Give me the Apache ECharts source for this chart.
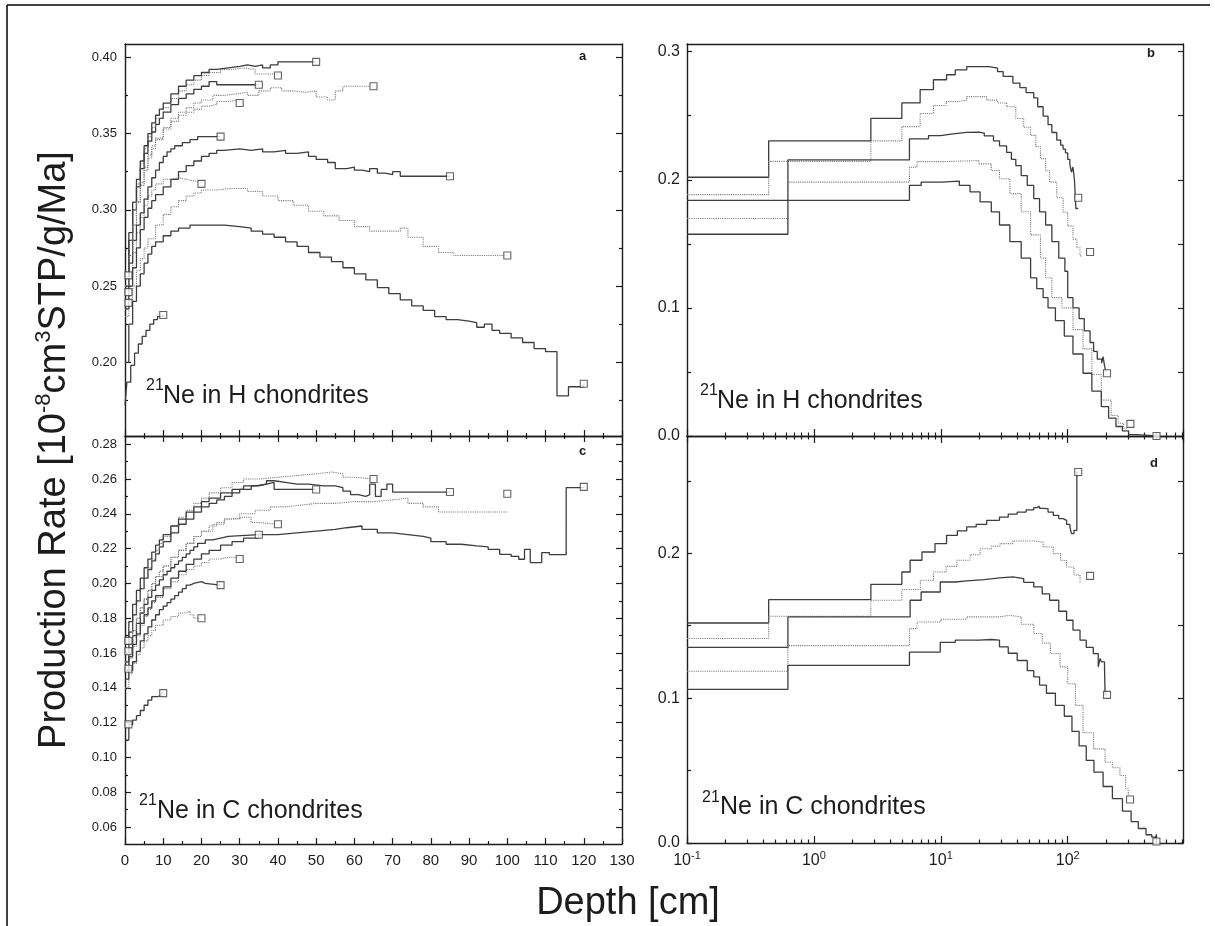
<!DOCTYPE html>
<html>
<head>
<meta charset="utf-8">
<script src="https://cdn.jsdelivr.net/npm/echarts@6/dist/echarts.min.js"></script>
<style>
  html, body { margin: 0; padding: 0; background: #fff; }
  #chart { width: 1215px; height: 926px; }
</style>
</head>
<body>
<div id="chart"></div>
<script>
// ---------- panel a : 21Ne in H chondrites, depth in cm (linear) ----------
const aR10 = [[0,0.172],[0.5,0.187],[1.5,0.198],[2.5,0.206],[3.5,0.212],[4.5,0.217],[5.5,0.221],[6.5,0.225],[7.5,0.228],[8.5,0.230],[10,0.231]];
const aR20 = [[0,0.235],[1,0.255],[2,0.272],[3,0.285],[4,0.295],[5,0.303],[6,0.309],[7,0.313],[8,0.317],[10,0.320],[12,0.321],[14,0.320],[16,0.319],[18,0.318],[20,0.317]];
const aR25 = [[0,0.250],[1,0.265],[2,0.280],[3,0.290],[4,0.298],[5,0.307],[6,0.315],[7,0.321],[8,0.326],[9,0.331],[10,0.335],[11,0.338],[12,0.340],[13,0.342],[15,0.344],[17,0.346],[19,0.348],[25,0.348]];
const aR30 = [[0,0.250],[1,0.270],[2,0.290],[3,0.305],[4,0.318],[5,0.328],[6,0.336],[7,0.342],[8,0.347],[10,0.353],[12,0.358],[14,0.362],[16,0.364],[18,0.366],[20,0.368],[22,0.369],[24,0.371],[27,0.372],[30,0.370]];
const aR35 = [[0,0.255],[1,0.280],[2,0.300],[3,0.315],[4,0.327],[5,0.337],[6,0.345],[7,0.351],[8,0.356],[9,0.360],[10,0.364],[12,0.369],[14,0.373],[16,0.376],[18,0.379],[20,0.381],[22,0.384],[24,0.382],[35,0.382]];
const aR40 = [[0,0.255],[1,0.280],[2,0.300],[3,0.317],[4,0.330],[5,0.340],[6,0.348],[7,0.354],[8,0.360],[10,0.367],[12,0.373],[14,0.378],[16,0.382],[18,0.385],[20,0.388],[22,0.390],[25,0.392],[28,0.393],[31,0.392],[34,0.389],[40,0.388]];
const aR50 = [[0,0.255],[1,0.285],[2,0.305],[3,0.320],[4,0.332],[5,0.342],[6,0.350],[7,0.357],[8,0.362],[9,0.366],[10,0.370],[12,0.376],[14,0.381],[16,0.385],[18,0.388],[20,0.390],[22,0.392],[24,0.393],[27,0.394],[30,0.395],[32,0.394],[34,0.395],[36,0.393],[38,0.395],[40,0.397],[50,0.397]];
const aR65 = [[0,0.250],[1,0.270],[2,0.290],[3,0.305],[4,0.316],[5,0.326],[6,0.334],[7,0.340],[8,0.346],[10,0.354],[12,0.360],[14,0.364],[16,0.367],[18,0.370],[20,0.372],[23,0.375],[26,0.376],[29,0.377],[32,0.375],[35,0.378],[38,0.380],[41,0.378],[44,0.377],[47,0.378],[50,0.374],[53,0.372],[55,0.378],[57,0.381],[65,0.381]];
const aR85 = [[0,0.235],[1,0.250],[2,0.262],[3,0.275],[4,0.287],[5,0.295],[6,0.301],[7,0.306],[8,0.310],[10,0.315],[12,0.320],[14,0.325],[16,0.329],[18,0.332],[20,0.335],[22,0.337],[24,0.339],[26,0.340],[30,0.339],[33,0.340],[36,0.338],[39,0.339],[42,0.337],[45,0.338],[48,0.335],[50,0.333],[53,0.331],[55,0.327],[58,0.328],[60,0.326],[62,0.325],[64,0.327],[66,0.324],[68,0.323],[70,0.325],[72,0.322],[85,0.322]];
const aR100 = [[0,0.230],[1,0.240],[2,0.250],[3,0.260],[4,0.268],[5,0.275],[6,0.281],[8,0.290],[10,0.297],[12,0.302],[14,0.306],[16,0.309],[18,0.311],[20,0.313],[24,0.314],[28,0.314],[32,0.312],[36,0.309],[40,0.306],[44,0.303],[48,0.299],[52,0.296],[56,0.293],[60,0.289],[64,0.286],[68,0.286],[72,0.288],[74,0.282],[78,0.276],[82,0.272],[86,0.270],[100,0.270]];
const aR120 = [[0,0.200],[1,0.225],[2,0.240],[3,0.250],[4,0.258],[5,0.265],[6,0.271],[7,0.276],[8,0.279],[10,0.283],[12,0.286],[14,0.288],[17,0.290],[22,0.290],[26,0.289],[30,0.288],[33,0.286],[36,0.284],[39,0.282],[42,0.279],[45,0.276],[48,0.272],[51,0.269],[54,0.266],[57,0.262],[60,0.258],[63,0.254],[66,0.249],[69,0.245],[72,0.241],[75,0.237],[78,0.234],[81,0.230],[84,0.228],[87,0.227],[90,0.226],[92,0.223],[94,0.225],[96,0.221],[98,0.219],[101,0.216],[104,0.213],[107,0.209],[110,0.207],[113,0.178],[116,0.184],[120,0.186]];
const aEnds = [[10,0.231],[20,0.317],[25,0.348],[30,0.370],[35,0.382],[40,0.388],[50,0.397],[65,0.381],[85,0.322],[100,0.270],[120,0.186],[0.9,0.257],[0.9,0.246],[0.9,0.239]];

// ---------- panel c : 21Ne in C chondrites, depth in cm (linear) ----------
const cR10 = [[0,0.110],[1,0.119],[2,0.1215],[3,0.124],[4,0.127],[5,0.130],[6,0.133],[7,0.135],[8.5,0.1355],[9.5,0.137],[10,0.137]];
const cR20 = [[0,0.140],[1,0.148],[2,0.154],[3,0.159],[4,0.163],[5,0.167],[6,0.170],[7,0.173],[8,0.176],[10,0.179],[12,0.181],[14,0.183],[16,0.184],[17,0.182],[18,0.180],[20,0.180]];
const cR25 = [[0,0.145],[1,0.150],[2,0.155],[3,0.161],[4,0.167],[5,0.171],[6,0.175],[7,0.179],[8,0.182],[9,0.185],[10,0.187],[11,0.189],[12,0.191],[13,0.193],[14,0.195],[15,0.197],[16,0.199],[17,0.200],[18,0.201],[20,0.200],[21,0.199],[25,0.199]];
const cR30 = [[0,0.150],[1,0.157],[2,0.164],[3,0.170],[4,0.176],[5,0.181],[6,0.185],[7,0.189],[8,0.192],[10,0.197],[12,0.201],[14,0.205],[16,0.208],[18,0.210],[20,0.212],[22,0.214],[25,0.215],[27,0.215],[30,0.214]];
const cR35 = [[0,0.155],[1,0.163],[2,0.170],[3,0.177],[4,0.183],[5,0.188],[6,0.192],[7,0.196],[8,0.199],[9,0.202],[10,0.205],[11,0.207],[12,0.209],[13,0.211],[14,0.213],[15,0.215],[16,0.217],[17,0.219],[18,0.221],[19,0.223],[21,0.225],[23,0.226],[25,0.227],[27,0.228],[35,0.228]];
const cR40 = [[0,0.155],[1,0.165],[2,0.173],[3,0.180],[4,0.186],[5,0.191],[6,0.196],[7,0.200],[8,0.204],[9,0.207],[10,0.210],[12,0.215],[14,0.219],[16,0.223],[18,0.227],[20,0.230],[22,0.233],[24,0.235],[26,0.237],[28,0.238],[31,0.238],[33,0.235],[35,0.234],[40,0.234]];
const cR50 = [[0,0.160],[1,0.172],[2,0.182],[3,0.190],[4,0.197],[5,0.203],[6,0.208],[7,0.213],[8,0.217],[9,0.221],[10,0.224],[12,0.229],[14,0.234],[16,0.237],[18,0.241],[20,0.244],[22,0.246],[24,0.248],[26,0.250],[28,0.252],[30,0.254],[33,0.256],[35,0.257],[37,0.258],[39,0.254],[50,0.254]];
const cR65 = [[0,0.160],[1,0.172],[2,0.182],[3,0.190],[4,0.197],[5,0.203],[6,0.209],[7,0.214],[8,0.219],[9,0.223],[10,0.227],[12,0.233],[14,0.238],[16,0.242],[18,0.246],[20,0.249],[22,0.252],[25,0.255],[28,0.258],[31,0.260],[35,0.261],[40,0.262],[45,0.263],[50,0.264],[54,0.263],[57,0.261],[60,0.260],[65,0.260]];
const cR85 = [[0,0.165],[1,0.178],[2,0.188],[3,0.196],[4,0.203],[5,0.209],[6,0.214],[7,0.218],[8,0.222],[9,0.225],[10,0.228],[12,0.233],[14,0.237],[16,0.241],[18,0.244],[20,0.247],[22,0.249],[25,0.252],[28,0.254],[31,0.256],[34,0.257],[37,0.259],[39,0.258],[42,0.257],[45,0.257],[48,0.256],[52,0.256],[55,0.255],[57,0.253],[59,0.251],[61,0.250],[63,0.251],[64,0.257],[65.5,0.250],[67,0.254],[68.5,0.257],[70,0.2525],[85,0.2525]];
const cR100 = [[0,0.155],[1,0.165],[2,0.173],[3,0.180],[4,0.186],[5,0.191],[6,0.196],[7,0.200],[8,0.204],[10,0.210],[12,0.215],[14,0.219],[16,0.223],[18,0.227],[20,0.230],[23,0.234],[26,0.237],[30,0.240],[34,0.242],[38,0.244],[42,0.245],[46,0.246],[50,0.246],[55,0.247],[60,0.247],[65,0.248],[70,0.249],[74,0.246],[78,0.244],[82,0.241],[100,0.241]];
const cR120 = [[0,0.150],[1,0.158],[2,0.165],[3,0.171],[4,0.177],[5,0.182],[6,0.186],[7,0.190],[8,0.193],[10,0.198],[12,0.203],[14,0.207],[16,0.211],[18,0.214],[20,0.217],[22,0.219],[25,0.222],[28,0.224],[31,0.226],[35,0.228],[40,0.229],[45,0.230],[50,0.231],[55,0.232],[58,0.233],[62,0.231],[66,0.229],[70,0.228],[74,0.227],[78,0.226],[80,0.224],[84,0.2225],[88,0.2216],[92,0.221],[95,0.2196],[98,0.2167],[101,0.2155],[103,0.2139],[104.5,0.2196],[106,0.212],[109,0.2177],[111,0.2165],[115.4,0.255],[120,0.2555]];
const cEnds = [[10,0.137],[20,0.180],[25,0.199],[30,0.214],[35,0.228],[40,0.234],[50,0.254],[65,0.260],[85,0.2525],[100,0.2515],[120,0.2555],[0.9,0.167],[0.9,0.161],[0.9,0.151],[0.9,0.119]];

// ---------- panel b : 21Ne in H chondrites, depth in cm (log) ----------
const bR120 = [[0.1,0.202],[0.44,0.2304],[2.81,0.2479],[4.93,0.260],[6.87,0.2704],[8.75,0.2781],[11.1,0.282],[13,0.2858],[16,0.2884],[24,0.2871],[28,0.2845],[31,0.2807],[37,0.2755],[42,0.272],[47,0.268],[54,0.2639],[58,0.257],[64,0.2497],[70,0.243],[75,0.2369],[82,0.231],[88,0.227],[92,0.224],[96,0.221],[100,0.216],[104,0.212],[107,0.2059],[110,0.210],[113,0.200],[116,0.1776],[121,0.1776]];
const bR150 = [[0.1,0.1884],[0.44,0.2144],[2.81,0.2304],[4.93,0.2415],[6.87,0.2518],[8.75,0.258],[11,0.261],[13.4,0.2622],[16,0.2649],[23,0.2622],[28,0.260],[33,0.257],[39,0.2478],[45,0.241],[51,0.2347],[56,0.226],[61,0.2165],[67,0.207],[72,0.1982],[82,0.186],[92,0.1747],[100,0.164],[110,0.1537],[118,0.147],[125,0.1406],[130,0.1406]];
const bR200 = [[0.1,0.1575],[0.624,0.2155],[5.66,0.232],[8,0.2345],[10,0.2356],[12,0.237],[16,0.2372],[20,0.2365],[22,0.2343],[26,0.2304],[29,0.2265],[33,0.2214],[36,0.216],[39,0.2111],[43,0.2033],[48,0.1956],[54,0.1853],[60,0.175],[67,0.1647],[75,0.1518],[85,0.1389],[95,0.1286],[100,0.108],[110,0.100],[123,0.0916],[135,0.082],[150,0.073],[160,0.066],[171,0.060],[185,0.057],[190,0.062],[195,0.055],[200,0.050]];
const bR300 = [[0.1,0.1698],[0.624,0.1982],[5.66,0.2098],[6.5,0.2142],[10.5,0.215],[20,0.2124],[25,0.2072],[29,0.2008],[35,0.1892],[43,0.175],[51,0.157],[61,0.1389],[67,0.1235],[75,0.108],[90,0.100],[110,0.083],[132,0.068],[155,0.048],[184,0.028],[220,0.016],[250,0.010],[276,0.006],[290,0.005]];
const bR500 = [[0.1,0.184],[5.66,0.1956],[7,0.1982],[10,0.199],[14,0.1956],[17,0.1905],[20.4,0.1827],[25,0.175],[29,0.1647],[35,0.1518],[43,0.1389],[51,0.1235],[57,0.115],[64,0.108],[70,0.100],[80,0.090],[94,0.078],[110,0.064],[132,0.049],[155,0.035],[184,0.023],[210,0.014],[240,0.0074],[270,0.004],[302,0.001],[350,0],[500,0]];
const bEnds = [[121,0.186],[150,0.1436],[204,0.049],[312,0.0095],[501,0.0]];

// ---------- panel d : 21Ne in C chondrites, depth in cm (log) ----------
const dR120 = [[0.1,0.1519],[0.44,0.168],[2.81,0.1786],[4.93,0.1871],[5.73,0.1952],[7.1,0.2009],[9,0.2067],[11.1,0.2124],[13.5,0.2155],[16,0.2182],[19,0.220],[23,0.2228],[29,0.225],[34,0.227],[40,0.2285],[47,0.230],[54,0.2315],[57,0.2324],[60,0.231],[64,0.2308],[70,0.2285],[77,0.2262],[85,0.224],[92,0.2228],[98,0.220],[104,0.2182],[107,0.2136],[112,0.2159],[118,0.2561],[121,0.2561]];
const dR150 = [[0.1,0.1412],[0.44,0.1566],[2.81,0.1676],[4.93,0.175],[6.9,0.1814],[8.75,0.1871],[11,0.191],[13.4,0.1952],[17,0.199],[20.4,0.2032],[25,0.205],[29.3,0.2067],[37,0.2085],[45,0.2085],[54,0.2078],[64,0.2044],[77,0.1998],[88,0.195],[98,0.1906],[112,0.185],[125,0.1791]];
const dR200 = [[0.1,0.135],[0.624,0.1561],[5.73,0.1676],[7,0.1733],[9.9,0.1802],[13,0.181],[16,0.1818],[22,0.183],[29,0.1837],[37,0.1825],[45,0.180],[54,0.1768],[63,0.172],[72,0.1676],[85,0.160],[98,0.1538],[110,0.147],[125,0.140],[140,0.135],[159,0.1308],[174,0.1216],[180,0.1274],[185,0.125],[195,0.1216],[197,0.1023],[204,0.1023]];
const dR300 = [[0.1,0.1186],[0.624,0.1363],[5.66,0.148],[6.5,0.1526],[10,0.1545],[16,0.1561],[29,0.1572],[35,0.1561],[43,0.151],[54,0.1446],[63,0.138],[73,0.1308],[87,0.1216],[100,0.110],[115,0.095],[132,0.0761],[160,0.065],[197,0.0557],[225,0.052],[258,0.0466],[286,0.0375],[300,0.033]];
const dR500 = [[0.1,0.1061],[0.624,0.1227],[5.66,0.1318],[9.9,0.1385],[13,0.140],[20,0.1405],[25,0.140],[29,0.1354],[34,0.131],[40,0.126],[48,0.119],[54,0.1147],[60,0.109],[68,0.1034],[80,0.095],[94,0.0875],[108,0.077],[123,0.067],[140,0.057],[161,0.0489],[190,0.039],[225,0.0307],[270,0.022],[316,0.0148],[360,0.010],[414,0.0057],[460,0.004],[490,0.0023],[500,0.006],[502,0.002]];
const dEnds = [[121,0.2561],[150,0.1844],[204,0.1023],[310,0.030],[500,0.001]];

// ---------- ticks ----------
const linMajor = [0,10,20,30,40,50,60,70,80,90,100,110,120,130];
const linMinor = [5,15,25,35,45,55,65,75,85,95,105,115,125];
const aYLabels = [0.20,0.25,0.30,0.35,0.40];
const aYMinor = [0.175,0.225,0.275,0.325,0.375];
const cYLabels = [0.06,0.08,0.10,0.12,0.14,0.16,0.18,0.20,0.22,0.24,0.26,0.28];
const cYMinor = [0.07,0.09,0.11,0.13,0.15,0.17,0.19,0.21,0.23,0.25,0.27];
const logYLabels = [0.0,0.1,0.2,0.3];
const logYMinor = [0.05,0.15,0.25];
const logMinor = [0.2,0.3,0.4,0.5,0.6,0.7,0.8,0.9,2,3,4,5,6,7,8,9,20,30,40,50,60,70,80,90,200,300,400,500,600,700,800];

const FONT = "'Liberation Sans', Arial, sans-serif";
const INK = '#1c1c1c';
const LOGMAX = 810;

const xAxes = [], yAxes = [];
function ax(list, o) {
  const a = {
    type: o.type || 'value', gridIndex: o.grid, position: o.pos,
    min: o.min, max: o.max,
    axisLine: {show: o.line !== false, onZero: false, lineStyle: {color: INK, width: 1.4}},
    axisTick: o.ticks ? {show: true, inside: true, length: o.len, lineStyle: {color: INK, width: 1.2}} : {show: false},
    axisLabel: o.label || {show: false},
    splitLine: {show: false}
  };
  if (o.type === 'log') a.logBase = 10;
  if (o.ticks && o.ticks !== 'auto') a.axisTick.customValues = o.ticks;
  list.push(a);
  return list.length - 1;
}
function numLabel(vals, digits, size, margin) {
  return {show: true, customValues: vals, formatter: v => v.toFixed(digits),
    fontSize: size, color: INK, fontFamily: FONT, margin: margin};
}
const logLabel = {
  show: true, fontSize: 16, lineHeight: 22, color: INK, fontFamily: FONT, margin: 7,
  showMaxLabel: false,
  formatter: v => {
    const e = Math.log10(v), r = Math.round(e);
    return Math.abs(e - r) > 1e-6 ? '' : '10{s|' + r + '}';
  },
  rich: {s: {fontSize: 11, lineHeight: 14, verticalAlign: 'top', fontFamily: FONT, color: INK}}
};

// y ranges
const yr = {
  a: [0.1517, 0.4087], c: [0.0503, 0.2847], b: [0, 0.306], d: [0, 0.281]
};

// linear panels (grid 0 = a, grid 2 = c)
function linPanel(g, rng, yLab, yMin, digits, showX, topTicks) {
  const xi = ax(xAxes, {grid: g, pos: 'bottom', min: 0, max: 130, ticks: linMajor, len: 6,
    label: showX ? {show: true, customValues: linMajor, fontSize: 15, color: INK, fontFamily: FONT, margin: 9} : null});
  ax(xAxes, {grid: g, pos: 'bottom', min: 0, max: 130, ticks: linMinor, len: 3, line: false});
  ax(xAxes, {grid: g, pos: 'top', min: 0, max: 130, ticks: topTicks ? linMajor : null, len: 6});
  if (topTicks) ax(xAxes, {grid: g, pos: 'top', min: 0, max: 130, ticks: linMinor, len: 3, line: false});
  const yi = ax(yAxes, {grid: g, pos: 'left', min: rng[0], max: rng[1], ticks: yLab, len: 6,
    label: numLabel(yLab, digits, 13, 8)});
  ax(yAxes, {grid: g, pos: 'left', min: rng[0], max: rng[1], ticks: yMin, len: 3, line: false});
  ax(yAxes, {grid: g, pos: 'right', min: rng[0], max: rng[1], ticks: yLab, len: 6});
  ax(yAxes, {grid: g, pos: 'right', min: rng[0], max: rng[1], ticks: yMin, len: 3, line: false});
  return [xi, yi];
}
function logPanel(g, rng, showX, topTicks) {
  const xi = ax(xAxes, {grid: g, type: 'log', pos: 'bottom', min: 0.1, max: LOGMAX, ticks: 'auto', len: 7,
    label: showX ? logLabel : null});
  ax(xAxes, {grid: g, pos: 'bottom', min: -1, max: Math.log10(LOGMAX), ticks: logMinor.map(Math.log10), len: 3.5, line: false});
  ax(xAxes, {grid: g, type: 'log', pos: 'top', min: 0.1, max: LOGMAX, ticks: topTicks ? 'auto' : null, len: 7});
  if (topTicks) ax(xAxes, {grid: g, pos: 'top', min: -1, max: Math.log10(LOGMAX), ticks: logMinor.map(Math.log10), len: 3.5, line: false});
  const yi = ax(yAxes, {grid: g, pos: 'left', min: rng[0], max: rng[1], ticks: logYLabels, len: 5,
    label: numLabel(logYLabels, 1, 16, 7)});
  ax(yAxes, {grid: g, pos: 'left', min: rng[0], max: rng[1], ticks: logYMinor, len: 4, line: false});
  ax(yAxes, {grid: g, pos: 'right', min: rng[0], max: rng[1], ticks: logYLabels.concat(logYMinor), len: 5});
  return [xi, yi];
}

const pa = linPanel(0, yr.a, aYLabels, aYMinor, 2, false, false);
const pb = logPanel(1, yr.b, false, false);
const pc = linPanel(2, yr.c, cYLabels, cYMinor, 2, true, true);
const pd = logPanel(3, yr.d, true, true);

const solid = {color: '#3d3d3d', width: 1.3, type: 'solid'};
const dotted = {color: '#777', width: 1.1, type: 'dotted'};
const series = [];
function addPanel(p, curves, ends) {
  curves.forEach(c => series.push({
    type: 'line', xAxisIndex: p[0], yAxisIndex: p[1], data: c[0], step: 'end',
    showSymbol: false, symbol: 'none', lineStyle: c[1] ? dotted : solid, silent: true, z: 2
  }));
  series.push({
    type: 'scatter', xAxisIndex: p[0], yAxisIndex: p[1], data: ends, symbol: 'rect', symbolSize: 7,
    itemStyle: {color: '#fff', borderColor: '#3d3d3d', borderWidth: 1.1}, silent: true, z: 5
  });
}
addPanel(pa, [[aR10,0],[aR20,1],[aR25,0],[aR30,1],[aR35,0],[aR40,1],[aR50,0],[aR65,1],[aR85,0],[aR100,1],[aR120,0]], aEnds);
addPanel(pc, [[cR10,0],[cR20,1],[cR25,0],[cR30,1],[cR35,0],[cR40,1],[cR50,0],[cR65,1],[cR85,0],[cR100,1],[cR120,0]], cEnds);
addPanel(pb, [[bR120,0],[bR150,1],[bR200,0],[bR300,1],[bR500,0]], bEnds);
addPanel(pd, [[dR120,0],[dR150,1],[dR200,0],[dR300,1],[dR500,0]], dEnds);

function txt(x, y, text, size, extra) {
  return {type: 'text', x: x, y: y, silent: true,
    style: Object.assign({text: text, fontSize: size, fontFamily: FONT, fill: INK,
      textAlign: 'left', align: 'left', textVerticalAlign: 'middle', verticalAlign: 'middle'}, extra || {})};
}
const graphic = [
  {type: 'line', shape: {x1: 7, y1: 5, x2: 1210, y2: 5}, style: {stroke: '#000', lineWidth: 1.5}, silent: true},
  {type: 'line', shape: {x1: 7, y1: 5, x2: 7, y2: 926}, style: {stroke: '#000', lineWidth: 1.5}, silent: true},
  txt(579, 56, 'a', 13, {fontWeight: 'bold'}),
  txt(1147, 53, 'b', 13, {fontWeight: 'bold'}),
  txt(579, 451, 'c', 13, {fontWeight: 'bold'}),
  txt(1150, 463, 'd', 13, {fontWeight: 'bold'}),
  txt(146, 386, '21', 16), txt(163, 396, 'Ne in H chondrites', 25),
  txt(700, 391, '21', 16), txt(717, 401, 'Ne in H chondrites', 25),
  txt(139, 801, '21', 16), txt(157, 811, 'Ne in C chondrites', 25),
  txt(702, 798, '21', 16), txt(720, 807, 'Ne in C chondrites', 25),
  txt(628, 904, 'Depth [cm]', 38, {textAlign: 'center', align: 'center'}),
  {type: 'text', x: 55, y: 450, rotation: Math.PI / 2, silent: true,
    style: {text: '{n|Production Rate [10}{s|-8}{n|cm}{s|3}{n|STP/g/Ma]}',
      textAlign: 'center', align: 'center', textVerticalAlign: 'middle', verticalAlign: 'middle', fill: INK,
      rich: {n: {fontSize: 38, lineHeight: 44, fontFamily: FONT, fill: INK},
             s: {fontSize: 22, lineHeight: 24, verticalAlign: 'top', fontFamily: FONT, fill: INK}}}}
];

const chart = echarts.init(document.getElementById('chart'));
chart.setOption({
  animation: false,
  backgroundColor: '#fff',
  grid: [
    {left: 125, top: 44, width: 497, height: 392},
    {left: 687, top: 44, width: 496, height: 392},
    {left: 125, top: 436, width: 497, height: 408},
    {left: 687, top: 436, width: 496, height: 407}
  ],
  xAxis: xAxes,
  yAxis: yAxes,
  series: series,
  graphic: graphic
});
</script>
</body>
</html>
